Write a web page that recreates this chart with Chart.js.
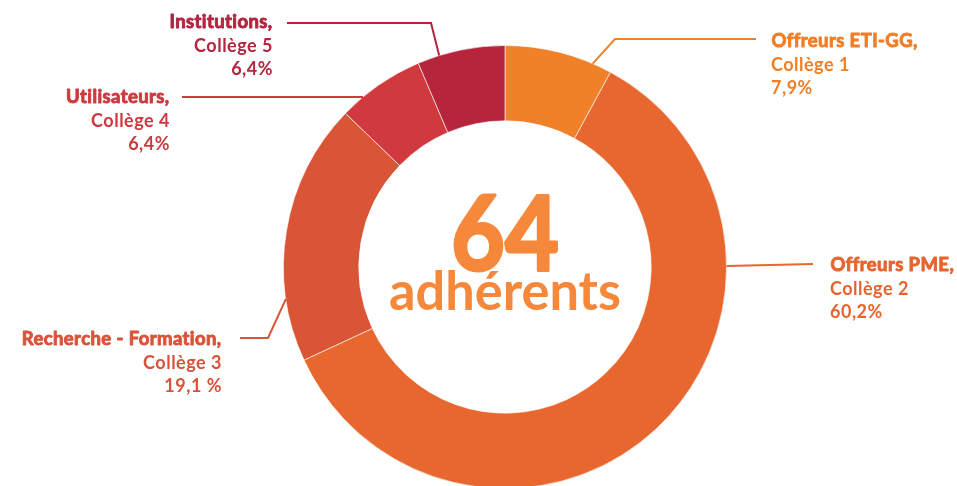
<!DOCTYPE html>
<html><head><meta charset="utf-8">
<script src="https://cdn.jsdelivr.net/npm/chart.js@4"></script>
<style>
html,body{margin:0;padding:0;background:#fff;overflow:hidden;width:957px;height:486px}
#wrap{width:957px;height:520px;position:relative}
</style></head>
<body><div id="wrap"><canvas id="c" width="957" height="520"></canvas></div>
<script>
const categories = ["Offreurs ETI-GG", "Offreurs PME", "Recherche - Formation", "Utilisateurs", "Institutions"];
const colleges = ["Collège 1", "Collège 2", "Collège 3", "Collège 4", "Collège 5"];
const values = [7.9, 60.2, 19.1, 6.4, 6.4];
const valueLabels = ["7,9%", "60,2%", "19,1 %", "6,4%", "6,4%"];
const colors = ["#F08128", "#E8672F", "#DA5436", "#D03A3F", "#B5253B"];
const textColors = ["#F07F27", "#E5652F", "#D9533A", "#CC3A40", "#B32540"];
const totalMembers = "64";
const totalLabel = "adhérents";

// label layout: anchor fraction along arc, leader path points, text position & alignment
const labelLayout = [
  {frac:0.82, path:[[615,39],[756,39]], tx:771, ty:41, align:"left"},
  {frac:0.283, path:[[813,264]], tx:830, ty:265, align:"left"},
  {frac:0.24, path:[[268,338],[240,338]], tx:222, ty:339, align:"right"},
  {frac:0.27, path:[[182,97]], tx:170, ty:97, align:"right"},
  {frac:0.25, path:[[431,23],[287,23]], tx:273, ty:22, align:"right"}
];

const labelPlugin = {
  id:"labels",
  afterDatasetsDraw(chart){
    const ctx = chart.ctx;
    const meta = chart.getDatasetMeta(0);
    meta.data.forEach((arc,i)=>{
      const p = arc.getProps(["x","y","startAngle","endAngle","outerRadius"], true);
      const L = labelLayout[i];
      const a = p.startAngle + (p.endAngle - p.startAngle)*L.frac;
      const ax = p.x + Math.cos(a)*p.outerRadius;
      const ay = p.y + Math.sin(a)*p.outerRadius;
      ctx.save();
      ctx.strokeStyle = colors[i];
      ctx.lineWidth = 2;
      ctx.beginPath();
      ctx.moveTo(ax, ay);
      L.path.forEach(pt=>ctx.lineTo(pt[0], pt[1]));
      ctx.stroke();
      ctx.fillStyle = textColors[i];
      ctx.strokeStyle = textColors[i];
      ctx.textAlign = L.align;
      ctx.textBaseline = "middle";
      ctx.letterSpacing = "0.4px";
      ctx.font = "700 18.5px Lato";
      ctx.lineWidth = 0.9;
      ctx.lineJoin = "round";
      const t1 = categories[i] + ",";
      const dx = L.align === "right" ? -0.45 : 0.45;
      ctx.fillText(t1, L.tx + dx, L.ty);
      ctx.strokeText(t1, L.tx + dx, L.ty);
      ctx.letterSpacing = "0.5px";
      ctx.font = "700 18px Lato";
      ctx.fillText(colleges[i], L.tx, L.ty + 24);
      ctx.fillText(valueLabels[i], L.tx, L.ty + 47);
      ctx.restore();
    });
    // center text
    const p0 = meta.data[0].getProps(["x","y"], true);
    ctx.save();
    ctx.fillStyle = "#F5883A";
    ctx.strokeStyle = "#F5883A";
    ctx.textAlign = "center";
    ctx.textBaseline = "alphabetic";
    ctx.font = "700 104px Lato";
    ctx.lineWidth = 3;
    ctx.lineJoin = "round";
    ctx.fillText(totalMembers, p0.x, p0.y + 3, 108);
    ctx.strokeText(totalMembers, p0.x, p0.y + 3, 108);
    ctx.font = "700 54px Lato";
    ctx.fillText(totalLabel, p0.x, p0.y + 43, 232);
    ctx.restore();
  }
};

new Chart(document.getElementById("c"), {
  type:"doughnut",
  data:{labels:categories, datasets:[{data:values, backgroundColor:colors, borderColor:"rgba(255,255,255,0.6)", borderWidth:1}]},
  options:{
    responsive:false, animation:false, cutout:"66%",
    layout:{padding:{left:283,right:230,top:45,bottom:31}},
    plugins:{legend:{display:false}, tooltip:{enabled:false}}
  },
  plugins:[labelPlugin]
});
</script></body></html>
